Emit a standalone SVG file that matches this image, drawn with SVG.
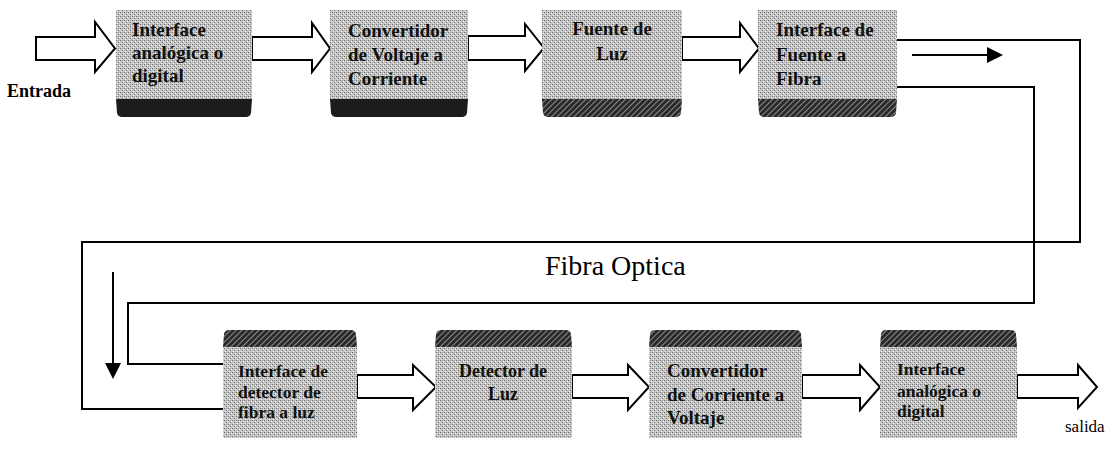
<svg xmlns="http://www.w3.org/2000/svg" width="1117" height="456" viewBox="0 0 1117 456">
<style>
.lbl{font-family:"Liberation Serif","Times New Roman",serif;font-weight:bold;fill:#111}
.top{font-size:19px}
.bot{font-size:17.5px}
.plain{font-family:"Liberation Serif","Times New Roman",serif;fill:#000}
.box{fill:url(#dots);stroke:none}
.band1{fill:#1c1c1c}
.band2{fill:url(#hatch)}
.blk{fill:#fff;stroke:#000;stroke-width:2;stroke-linejoin:miter}
.fib{fill:none;stroke:#000;stroke-width:2}
</style>
<defs>
<pattern id="dots" width="4" height="4" patternUnits="userSpaceOnUse">
<rect width="4" height="4" fill="#c6c6c6"/>
<rect x="0" y="0" width="1" height="1" fill="#6e6e6e"/>
<rect x="2" y="2" width="1" height="1" fill="#6e6e6e"/>
<rect x="2" y="0" width="1" height="1" fill="#9a9a9a"/>
<rect x="1" y="3" width="1" height="1" fill="#efefef"/>
<rect x="3" y="1" width="1" height="1" fill="#efefef"/>
</pattern>
<pattern id="hatch" width="4" height="4" patternUnits="userSpaceOnUse" patternTransform="rotate(45)">
<rect width="4" height="4" fill="#2a2a2a"/>
<rect x="0" y="0" width="1" height="4" fill="#8c8c8c"/>
</pattern>
</defs>

<g id="connectors">
<path class="fib" d="M897,40 H1080 V242 H82 V409 H223"/>
<path class="fib" d="M897,87 H1034 V303 H128 V364 H223"/>
<line x1="912" y1="55" x2="989" y2="55" stroke="#000" stroke-width="2"/>
<path d="M987,47 L1003,55 L987,63 Z" fill="#000"/>
<line x1="113" y1="272" x2="113" y2="365" stroke="#000" stroke-width="2"/>
<path d="M105,363 L113,379 L121,363 Z" fill="#000"/>
<path class="blk" d="M36,37 H95 V22 L115,48.5 L95,72 V60 H36 Z"/>
<path class="blk" d="M252,37 H312 V23 L330,48.5 L312,72 V60 H252 Z"/>
<path class="blk" d="M468,36 H525 V24 L544,48 L525,71 V60 H468 Z"/>
<path class="blk" d="M682,37 H740 V23 L759,48.5 L740,72 V60 H682 Z"/>
<path class="blk" d="M357,375 H413 V365 L436,387 L413,410 V398 H357 Z"/>
<path class="blk" d="M572,375 H628 V365 L649,387 L628,410 V398 H572 Z"/>
<path class="blk" d="M802,375 H860 V365 L880,387 L860,410 V398 H802 Z"/>
<path class="blk" d="M1017,375 H1078 V365 L1097,387 L1078,408 V398 H1017 Z"/>
</g>

<g id="n1">
<rect class="box" x="116" y="10" width="136" height="90"/>
<path class="band1" d="M116,99 H252 L251,113 Q250,117 246,117 H122 Q118,117 117,113 Z"/>
<text class="lbl top" x="132" y="36">Interface</text>
<text class="lbl top" x="132" y="59">analógica o</text>
<text class="lbl top" x="132" y="82">digital</text>
</g>
<g id="n2">
<rect class="box" x="330" y="10" width="138" height="90"/>
<path class="band1" d="M330,99 H468 L467,113 Q466,117 462,117 H336 Q332,117 331,113 Z"/>
<text class="lbl top" x="348" y="37">Convertidor</text>
<text class="lbl top" x="348" y="61">de Voltaje a</text>
<text class="lbl top" x="348" y="85">Corriente</text>
</g>
<g id="n3">
<rect class="box" x="542" y="10" width="140" height="90"/>
<path class="band2" d="M542,99 H682 L681,113 Q680,117 676,117 H548 Q544,117 543,113 Z"/>
<text class="lbl top" x="612" y="35" text-anchor="middle">Fuente de</text>
<text class="lbl top" x="612" y="60" text-anchor="middle">Luz</text>
</g>
<g id="n4">
<rect class="box" x="758" y="10" width="139" height="90"/>
<path class="band2" d="M758,99 H897 L896,113 Q895,117 891,117 H764 Q760,117 759,113 Z"/>
<text class="lbl top" x="776" y="36">Interface de</text>
<text class="lbl top" x="776" y="61">Fuente a</text>
<text class="lbl top" x="776" y="85">Fibra</text>
</g>

<g id="n5">
<rect class="box" x="223" y="346" width="134" height="92"/>
<path class="band2" d="M223,347 L224,334 Q225,330 229,330 H351 Q355,330 356,334 L357,347 Z"/>
<text class="lbl bot" x="238" y="377">Interface de</text>
<text class="lbl bot" x="238" y="398">detector de</text>
<text class="lbl bot" x="238" y="418">fibra a luz</text>
</g>
<g id="n6">
<rect class="box" x="435" y="346" width="137" height="92"/>
<path class="band2" d="M435,347 L436,334 Q437,330 441,330 H566 Q570,330 571,334 L572,347 Z"/>
<text class="lbl bot" x="503" y="377" text-anchor="middle" style="font-size:18px">Detector de</text>
<text class="lbl bot" x="503" y="400" text-anchor="middle" style="font-size:18px">Luz</text>
</g>
<g id="n7">
<rect class="box" x="649" y="346" width="153" height="92"/>
<path class="band2" d="M649,347 L650,334 Q651,330 655,330 H796 Q800,330 801,334 L802,347 Z"/>
<text class="lbl bot" x="667" y="377" style="font-size:19px">Convertidor</text>
<text class="lbl bot" x="667" y="401" style="font-size:19px">de Corriente a</text>
<text class="lbl bot" x="667" y="424" style="font-size:19px">Voltaje</text>
</g>
<g id="n8">
<rect class="box" x="880" y="346" width="137" height="92"/>
<path class="band2" d="M880,347 L881,334 Q882,330 886,330 H1011 Q1015,330 1016,334 L1017,347 Z"/>
<text class="lbl bot" x="897" y="375">Interface</text>
<text class="lbl bot" x="897" y="397">analógica o</text>
<text class="lbl bot" x="897" y="417">digital</text>
</g>

<g id="labels">
<text class="plain" x="7" y="97" style="font-size:18px;font-weight:bold">Entrada</text>
<text class="plain" x="1065" y="432" style="font-size:17px">salida</text>
<text class="plain" x="545" y="275" style="font-size:28px">Fibra Optica</text>
</g>
</svg>
